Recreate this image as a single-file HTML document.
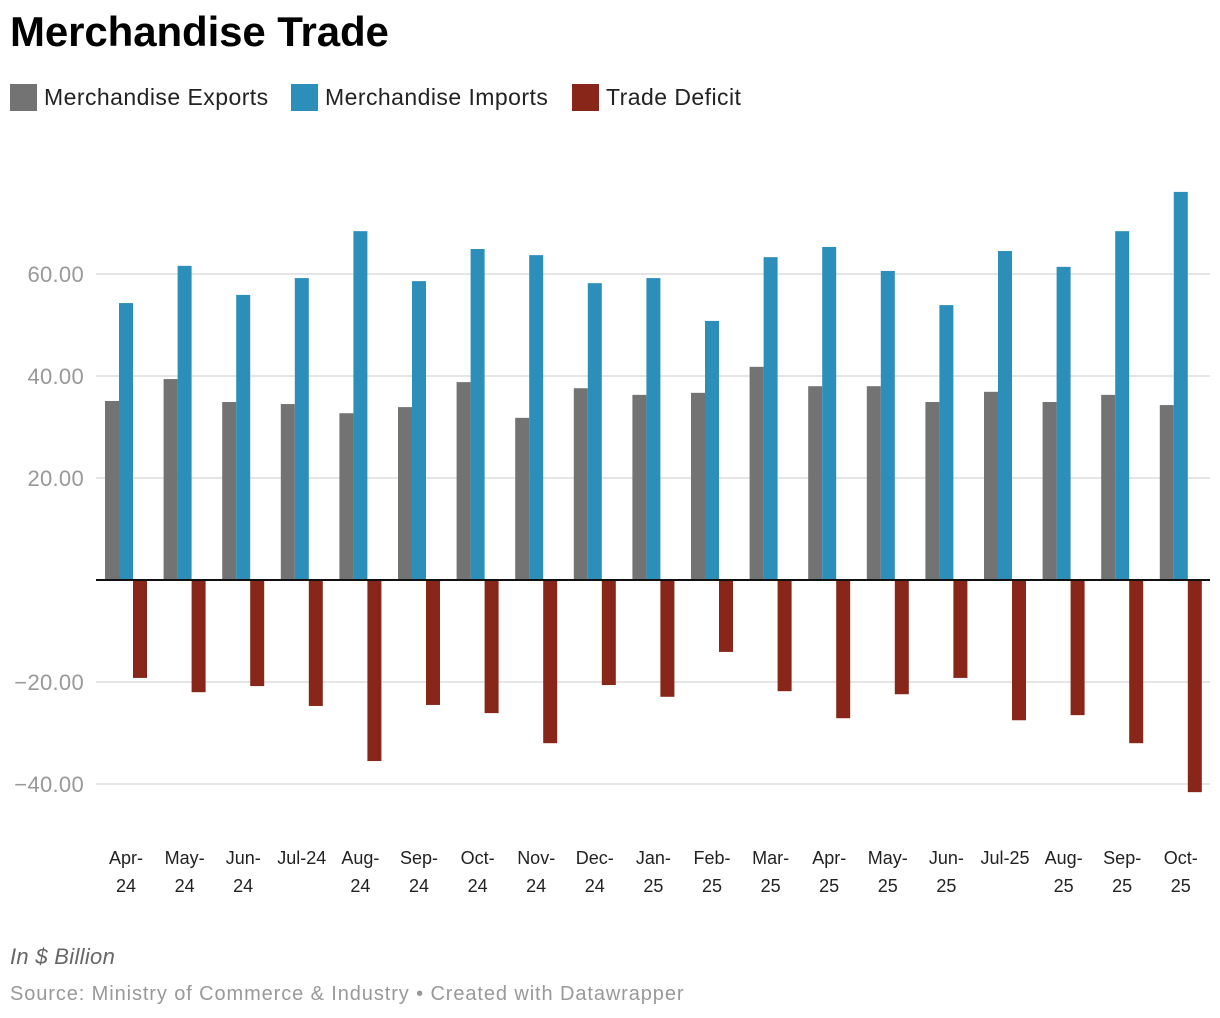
<!DOCTYPE html>
<html><head><meta charset="utf-8"><style>
body{margin:0;background:#fff;width:1220px;height:1018px;overflow:hidden;font-family:"Liberation Sans",sans-serif}
.t{position:absolute;left:10px;top:8px;font-size:42px;font-weight:bold;color:#000;letter-spacing:-0.1px}
.leg{position:absolute;top:84px;font-size:23px;color:#222;display:flex;align-items:center;letter-spacing:0.45px}
.sw{width:27px;height:27px;margin-right:7px}
.note{position:absolute;left:10px;top:944px;font-size:22px;font-style:italic;color:#666;letter-spacing:0.3px}
.src{position:absolute;left:10px;top:983px;font-size:20px;color:#999;letter-spacing:0.9px}
</style></head><body>
<div class="t">Merchandise Trade</div>
<div class="leg" style="left:10px"><div class="sw" style="background:#737373"></div>Merchandise Exports</div>
<div class="leg" style="left:291px"><div class="sw" style="background:#2b8fba"></div>Merchandise Imports</div>
<div class="leg" style="left:572px"><div class="sw" style="background:#872619"></div>Trade Deficit</div>
<svg id="c" width="1220" height="1018" style="position:absolute;left:0;top:0"></svg>
<div class="note">In $ Billion</div>
<div class="src">Source: Ministry of Commerce &amp; Industry • Created with Datawrapper</div>
<script>
const categories=[["Apr-","24"],["May-","24"],["Jun-","24"],["Jul-24",""],["Aug-","24"],["Sep-","24"],["Oct-","24"],["Nov-","24"],["Dec-","24"],["Jan-","25"],["Feb-","25"],["Mar-","25"],["Apr-","25"],["May-","25"],["Jun-","25"],["Jul-25",""],["Aug-","25"],["Sep-","25"],["Oct-","25"]];
const exportsVals=[35.1,39.4,34.9,34.5,32.7,33.9,38.8,31.8,37.6,36.3,36.7,41.8,38.0,38.0,34.9,36.9,34.9,36.3,34.3];
const importsVals=[54.3,61.6,55.9,59.2,68.4,58.6,64.9,63.7,58.2,59.2,50.8,63.3,65.3,60.6,53.9,64.5,61.4,68.4,76.1];
const deficitVals=[-19.2,-22.0,-20.8,-24.7,-35.5,-24.5,-26.1,-32.0,-20.6,-22.9,-14.1,-21.8,-27.1,-22.4,-19.2,-27.5,-26.5,-32.0,-41.6];
const ticks=[60,40,20,-20,-40];
const tickLabels=["60.00","40.00","20.00","−20.00","−40.00"];
const svg=document.getElementById('c');const NS='http://www.w3.org/2000/svg';
const y=v=>580-v*5.1;const x=i=>126+i*58.6;
function mk(t,a){const e=document.createElementNS(NS,t);for(const k in a)e.setAttribute(k,a[k]);svg.appendChild(e);return e;}
ticks.forEach((t,i)=>{
 const l=mk('line',{x1:96,x2:1210,y1:y(t),y2:y(t),stroke:'#e5e5e5','stroke-width':2});
 
 
 const tx=mk('text',{x:84,y:y(t)+8,'text-anchor':'end','font-size':22,fill:'#999','letter-spacing':0.3});
 tx.textContent=tickLabels[i];
 
 
});
const series=[[exportsVals,'#737373',-21],[importsVals,'#2b8fba',-7],[deficitVals,'#872619',7]];
series.forEach(([vals,col,off])=>vals.forEach((v,i)=>{
 const r=mk('rect',{x:x(i)+off,width:14,y:Math.min(y(v),580),height:Math.abs(y(v)-580),fill:col});
 
 
}));
const z=mk('line',{x1:96,x2:1210,y1:580,y2:580,stroke:'#111','stroke-width':2});


categories.forEach((c,i)=>{
 const t=mk('text',{x:x(i),y:864,'text-anchor':'middle','font-size':18,fill:'#222'});
 t.textContent=c[0];
 
 
 if(c[1]){const t2=mk('text',{x:x(i),y:892,'text-anchor':'middle','font-size':18,fill:'#222'});
 t2.textContent=c[1];
 
 }
});
</script>
</body></html>
